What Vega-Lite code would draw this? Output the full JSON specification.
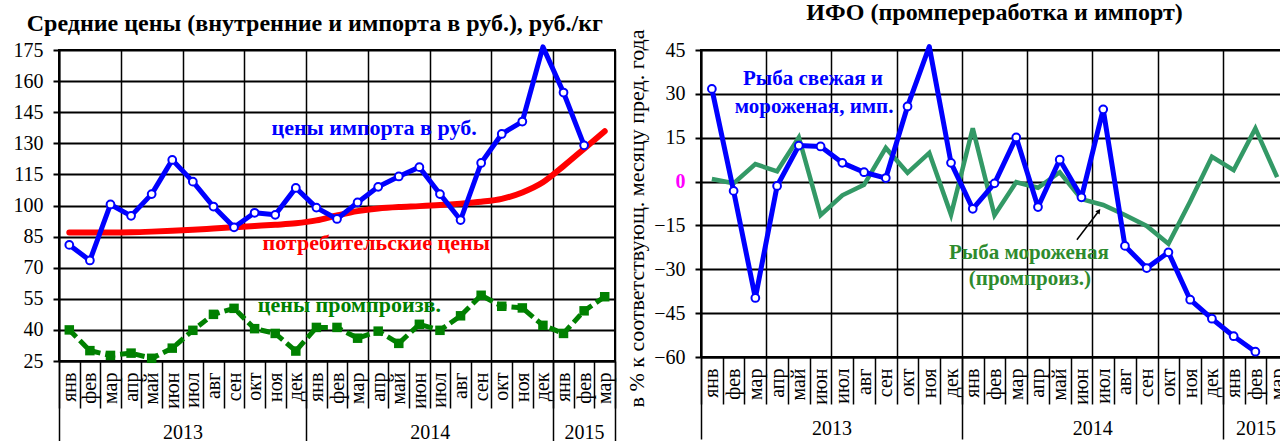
{
  "$schema": "https://vega.github.io/schema/vega-lite/v6.json",
  "padding": {"left": 12, "top": 0, "right": 0, "bottom": 0},
  "config": {
    "font": "Liberation Serif",
    "view": {"stroke": "black", "strokeWidth": 2},
    "axis": {"labelColor": "black", "titleColor": "black", "labelFont": "Liberation Serif", "titleFont": "Liberation Serif"},
    "title": {"font": "Liberation Serif", "fontWeight": "bold", "fontSize": 24, "color": "black"}
  },
  "resolve": {"scale": {"color": "independent"}},
  "datasets": {
    "L": [
      {"i":0,"s":"imp","v":81},{"i":1,"s":"imp","v":73.5},{"i":2,"s":"imp","v":100.5},{"i":3,"s":"imp","v":95},{"i":4,"s":"imp","v":105.5},{"i":5,"s":"imp","v":122},{"i":6,"s":"imp","v":111.5},{"i":7,"s":"imp","v":99.5},{"i":8,"s":"imp","v":89.5},{"i":9,"s":"imp","v":96.5},{"i":10,"s":"imp","v":95.5},{"i":11,"s":"imp","v":108.5},{"i":12,"s":"imp","v":99},{"i":13,"s":"imp","v":93.5},{"i":14,"s":"imp","v":101.5},{"i":15,"s":"imp","v":109},{"i":16,"s":"imp","v":114},{"i":17,"s":"imp","v":118.5},{"i":18,"s":"imp","v":105.5},{"i":19,"s":"imp","v":93},{"i":20,"s":"imp","v":120.5},{"i":21,"s":"imp","v":134.5},{"i":22,"s":"imp","v":140.5},{"i":23,"s":"imp","v":176.5},{"i":24,"s":"imp","v":154.5},{"i":25,"s":"imp","v":129},
      {"i":0,"s":"cons","v":87},{"i":1,"s":"cons","v":87},{"i":2,"s":"cons","v":87},{"i":3,"s":"cons","v":87.1},{"i":4,"s":"cons","v":87.4},{"i":5,"s":"cons","v":87.8},{"i":6,"s":"cons","v":88.3},{"i":7,"s":"cons","v":88.9},{"i":8,"s":"cons","v":89.5},{"i":9,"s":"cons","v":90.1},{"i":10,"s":"cons","v":90.7},{"i":11,"s":"cons","v":91.4},{"i":12,"s":"cons","v":92.8},{"i":13,"s":"cons","v":95.2},{"i":14,"s":"cons","v":97.3},{"i":15,"s":"cons","v":98.6},{"i":16,"s":"cons","v":99.3},{"i":17,"s":"cons","v":99.7},{"i":18,"s":"cons","v":100.2},{"i":19,"s":"cons","v":100.9},{"i":20,"s":"cons","v":101.8},{"i":21,"s":"cons","v":103.2},{"i":22,"s":"cons","v":106.3},{"i":23,"s":"cons","v":111.2},{"i":24,"s":"cons","v":119},{"i":25,"s":"cons","v":127.4},{"i":26,"s":"cons","v":135.8},
      {"i":0,"s":"prod","v":40},{"i":1,"s":"prod","v":30},{"i":2,"s":"prod","v":27.7},{"i":3,"s":"prod","v":28.8},{"i":4,"s":"prod","v":26.3},{"i":5,"s":"prod","v":31.2},{"i":6,"s":"prod","v":39.8},{"i":7,"s":"prod","v":47.5},{"i":8,"s":"prod","v":50.4},{"i":9,"s":"prod","v":40.6},{"i":10,"s":"prod","v":38.3},{"i":11,"s":"prod","v":29.8},{"i":12,"s":"prod","v":41.2},{"i":13,"s":"prod","v":41.2},{"i":14,"s":"prod","v":36},{"i":15,"s":"prod","v":39.4},{"i":16,"s":"prod","v":33.5},{"i":17,"s":"prod","v":42.7},{"i":18,"s":"prod","v":39.8},{"i":19,"s":"prod","v":46.8},{"i":20,"s":"prod","v":56.7},{"i":21,"s":"prod","v":51.4},{"i":22,"s":"prod","v":50.6},{"i":23,"s":"prod","v":42.2},{"i":24,"s":"prod","v":38.3},{"i":25,"s":"prod","v":49.2},{"i":26,"s":"prod","v":56}
    ],
    "LA": [
      {"i":14.8,"v":137.5,"s":"imp","t":"цены импорта в руб."},
      {"i":14.9,"v":82,"s":"cons","t":"потребительские цены"},
      {"i":13.6,"v":52,"s":"prod","t":"цены промпроизв."}
    ],
    "R": [
      {"i":0,"s":"imp","v":31.7},{"i":1,"s":"imp","v":-3.2},{"i":2,"s":"imp","v":-39.8},{"i":3,"s":"imp","v":-1.5},{"i":4,"s":"imp","v":12.3},{"i":5,"s":"imp","v":12},{"i":6,"s":"imp","v":6.4},{"i":7,"s":"imp","v":3.2},{"i":8,"s":"imp","v":1.2},{"i":9,"s":"imp","v":25.7},{"i":10,"s":"imp","v":46.2},{"i":11,"s":"imp","v":6.4},{"i":12,"s":"imp","v":-9.3},{"i":13,"s":"imp","v":-0.6},{"i":14,"s":"imp","v":15.1},{"i":15,"s":"imp","v":-8.7},{"i":16,"s":"imp","v":7.5},{"i":17,"s":"imp","v":-5.4},{"i":18,"s":"imp","v":24.7},{"i":19,"s":"imp","v":-22},{"i":20,"s":"imp","v":-29.6},{"i":21,"s":"imp","v":-24.2},{"i":22,"s":"imp","v":-40.4},{"i":23,"s":"imp","v":-46.9},{"i":24,"s":"imp","v":-52.9},{"i":25,"s":"imp","v":-58.2},
      {"i":0,"s":"frz","v":0.9},{"i":1,"s":"frz","v":-0.6},{"i":2,"s":"frz","v":6},{"i":3,"s":"frz","v":3.5},{"i":4,"s":"frz","v":15.1},{"i":5,"s":"frz","v":-11.5},{"i":6,"s":"frz","v":-4.7},{"i":7,"s":"frz","v":-1.1},{"i":8,"s":"frz","v":11.5},{"i":9,"s":"frz","v":3},{"i":10,"s":"frz","v":9.8},{"i":11,"s":"frz","v":-11.3},{"i":12,"s":"frz","v":18.2},{"i":13,"s":"frz","v":-11.5},{"i":14,"s":"frz","v":-0.2},{"i":15,"s":"frz","v":-2.1},{"i":16,"s":"frz","v":3.2},{"i":17,"s":"frz","v":-6},{"i":18,"s":"frz","v":-8},{"i":19,"s":"frz","v":-11.4},{"i":20,"s":"frz","v":-15.2},{"i":21,"s":"frz","v":-21.3},{"i":22,"s":"frz","v":-6.8},{"i":23,"s":"frz","v":8.5},{"i":24,"s":"frz","v":3.9},{"i":25,"s":"frz","v":18.2},{"i":26,"s":"frz","v":1.5}
    ],
    "RA": [
      {"i":4.65,"v":35.1,"s":"imp","t":"Рыба свежая и"},
      {"i":4.7,"v":25.6,"s":"imp","t":"мороженая, имп."},
      {"i":14.58,"v":-24.3,"s":"frz","t":"Рыба мороженая"},
      {"i":14.63,"v":-33.3,"s":"frz","t":"(промпроиз.)"}
    ],
    "ARROW": [
      {"i":16.79,"v":-19.9,"i2":17.8,"v2":-10.05}
    ]
  },
  "hconcat": [
    {
      "width": 556,
      "height": 311,
      "title": {"text": "Средние цены (внутренние и импорта в руб.), руб./кг", "frame": "bounds", "offset": 4},
      "resolve": {"axis": {"x": "independent"}},
      "layer": [
        {
          "data": {"name": "L"},
          "transform": [{"filter": "datum.s == 'cons'"}],
          "mark": {"type": "line", "color": "#FF0000", "strokeWidth": 6, "interpolate": "monotone", "strokeCap": "round"},
          "encoding": {
            "x": {"field": "i", "type": "quantitative", "scale": {"domain": [-0.5, 26.5], "nice": false, "zero": false},
              "axis": {"orient": "bottom", "tickCount": 60, "values": [-0.5,0.5,1.5,2.5,3.5,4.5,5.5,6.5,7.5,8.5,9.5,10.5,11.5,12.5,13.5,14.5,15.5,16.5,17.5,18.5,19.5,20.5,21.5,22.5,23.5,24.5,25.5,26.5],
                "labels": false, "ticks": true, "tickSize": 47, "tickColor": "black", "tickWidth": 1.5,
                "grid": true, "gridColor": "black", "gridWidth": 1.5,
                "gridOpacity": {"condition": {"test": "(datum.value + 0.5) % 3 == 0", "value": 1}, "value": 0},
                "domain": true, "domainColor": "black", "domainWidth": 2, "title": null}},
            "y": {"field": "v", "type": "quantitative", "scale": {"domain": [25, 175], "nice": false, "zero": false},
              "axis": {"orient": "left", "tickCount": 30, "values": [25,40,55,70,85,100,115,130,145,160,175], "grid": true, "gridColor": "black", "gridWidth": 2,
                "ticks": true, "tickSize": 6, "tickWidth": 2, "tickColor": "black", "domain": true, "domainColor": "black", "domainWidth": 2,
                "labelFontSize": 20, "labelPadding": 10, "labelOverlap": false, "labelFlush": false, "labelBound": false, "title": null}}
          }
        },
        {
          "data": {"name": "L"},
          "transform": [{"filter": "datum.s == 'prod'"}],
          "mark": {"type": "line", "color": "#008000", "strokeWidth": 5, "strokeDash": [10, 5]},
          "encoding": {
            "x": {"field": "i", "type": "quantitative",
              "axis": {"orient": "bottom", "tickCount": 60, "values": [0,1,2,3,4,5,6,7,8,9,10,11,12,13,14,15,16,17,18,19,20,21,22,23,24,25,26],
                "ticks": false, "domain": false, "grid": false, "labelAngle": 270, "labelAlign": "right", "labelBaseline": "middle",
                "labelPadding": 11, "labelFontSize": 20, "labelOverlap": false, "labelFlush": false, "labelBound": false,
                "labelExpr": "['янв','фев','мар','апр','май','июн','июл','авг','сен','окт','ноя','дек'][datum.value % 12]", "title": null}},
            "y": {"field": "v", "type": "quantitative"}
          }
        },
        {
          "data": {"name": "L"},
          "transform": [{"filter": "datum.s == 'prod'"}],
          "mark": {"type": "point", "shape": "square", "filled": true, "color": "#008000", "size": 90, "opacity": 1},
          "encoding": {
            "x": {"field": "i", "type": "quantitative", "axis": null},
            "y": {"field": "v", "type": "quantitative"}
          }
        },
        {
          "data": {"name": "L"},
          "transform": [{"filter": "datum.s == 'imp'"}],
          "mark": {"type": "line", "color": "#0000FF", "strokeWidth": 5, "strokeJoin": "round"},
          "encoding": {
            "x": {"field": "i", "type": "quantitative",
              "axis": {"orient": "bottom", "tickCount": 60, "values": [-0.5, 5.5, 11.5, 17.5, 23.5, 25, 26.5], "domain": false, "grid": false,
                "ticks": true, "tickSize": 82, "tickColor": "black", "tickWidth": 1.5,
                "tickOpacity": {"condition": {"test": "datum.value == 5.5 || datum.value == 17.5 || datum.value == 25", "value": 0}, "value": 1},
                "labelExpr": "datum.value == 5.5 ? '2013' : datum.value == 17.5 ? '2014' : datum.value == 25 ? '2015' : ''",
                "labelPadding": -21, "labelFontSize": 20, "labelAngle": 0, "labelOverlap": false, "labelFlush": false, "labelBound": false, "title": null}},
            "y": {"field": "v", "type": "quantitative"}
          }
        },
        {
          "data": {"name": "L"},
          "transform": [{"filter": "datum.s == 'imp' && datum.v <= 175"}],
          "mark": {"type": "point", "shape": "circle", "filled": true, "fill": "white", "stroke": "#0000FF", "strokeWidth": 2, "size": 60, "opacity": 1},
          "encoding": {
            "x": {"field": "i", "type": "quantitative", "axis": null},
            "y": {"field": "v", "type": "quantitative"}
          }
        },
        {
          "data": {"name": "LA"},
          "mark": {"type": "text", "fontWeight": "bold", "fontSize": 22, "align": "center", "baseline": "middle"},
          "encoding": {
            "x": {"field": "i", "type": "quantitative", "axis": null},
            "y": {"field": "v", "type": "quantitative"},
            "text": {"field": "t"},
            "color": {"field": "s", "type": "nominal", "scale": {"domain": ["imp", "cons", "prod"], "range": ["#0000FF", "#FF0000", "#008000"]}, "legend": null}
          }
        }
      ]
    },
    {
      "width": 587,
      "height": 307,
      "title": {"text": "ИФО (промпереработка и импорт)", "frame": "group", "offset": 4},
      "resolve": {"axis": {"x": "independent"}},
      "layer": [
        {
          "data": {"name": "R"},
          "transform": [{"filter": "datum.s == 'frz'"}],
          "mark": {"type": "line", "color": "#339966", "strokeWidth": 4.5},
          "encoding": {
            "x": {"field": "i", "type": "quantitative", "scale": {"domain": [-0.5, 26.5], "nice": false, "zero": false},
              "axis": {"orient": "bottom", "tickCount": 60, "values": [-0.5,0.5,1.5,2.5,3.5,4.5,5.5,6.5,7.5,8.5,9.5,10.5,11.5,12.5,13.5,14.5,15.5,16.5,17.5,18.5,19.5,20.5,21.5,22.5,23.5,24.5,25.5,26.5],
                "labels": false, "ticks": true, "tickSize": 47, "tickColor": "black", "tickWidth": 1.5,
                "grid": true, "gridColor": "black", "gridWidth": 1.5,
                "gridOpacity": {"condition": {"test": "(datum.value + 0.5) % 3 == 0", "value": 1}, "value": 0},
                "domain": true, "domainColor": "black", "domainWidth": 2, "title": null}},
            "y": {"field": "v", "type": "quantitative", "scale": {"domain": [-60, 45], "nice": false, "zero": false},
              "axis": {"orient": "left", "tickCount": 30, "values": [-60,-45,-30,-15,0,15,30,45], "grid": true, "gridColor": "black", "gridWidth": 2,
                "ticks": true, "tickSize": 6, "tickWidth": 2, "tickColor": "black", "domain": true, "domainColor": "black", "domainWidth": 2,
                "labelFontSize": 20, "labelPadding": 10, "labelOverlap": false, "labelFlush": false, "labelBound": false,
                "labelColor": {"condition": {"test": "datum.value == 0", "value": "#FF00FF"}, "value": "black"},
                "labelFontWeight": {"condition": {"test": "datum.value == 0", "value": "bold"}, "value": "normal"},
                "title": "в % к соответствующ. месяцу пред. года", "titleFontSize": 22, "titleFontWeight": "normal", "titlePadding": 5, "titleY": 168}}
          }
        },
        {
          "data": {"name": "R"},
          "transform": [{"filter": "datum.s == 'imp'"}],
          "mark": {"type": "line", "color": "#0000FF", "strokeWidth": 5, "strokeJoin": "round"},
          "encoding": {
            "x": {"field": "i", "type": "quantitative",
              "axis": {"orient": "bottom", "tickCount": 60, "values": [0,1,2,3,4,5,6,7,8,9,10,11,12,13,14,15,16,17,18,19,20,21,22,23,24,25,26],
                "ticks": false, "domain": false, "grid": false, "labelAngle": 270, "labelAlign": "right", "labelBaseline": "middle",
                "labelPadding": 11, "labelFontSize": 20, "labelOverlap": false, "labelFlush": false, "labelBound": false,
                "labelExpr": "['янв','фев','мар','апр','май','июн','июл','авг','сен','окт','ноя','дек'][datum.value % 12]", "title": null}},
            "y": {"field": "v", "type": "quantitative"}
          }
        },
        {
          "data": {"name": "R"},
          "transform": [{"filter": "datum.s == 'imp' && datum.v <= 45"}],
          "mark": {"type": "point", "shape": "circle", "filled": true, "fill": "white", "stroke": "#0000FF", "strokeWidth": 2, "size": 60, "opacity": 1},
          "encoding": {
            "x": {"field": "i", "type": "quantitative", "axis": null},
            "y": {"field": "v", "type": "quantitative"}
          }
        },
        {
          "data": {"name": "RA"},
          "mark": {"type": "text", "fontWeight": "bold", "fontSize": 21, "align": "center", "baseline": "middle"},
          "encoding": {
            "x": {"field": "i", "type": "quantitative",
              "axis": {"orient": "bottom", "tickCount": 60, "values": [-0.5, 5.5, 11.5, 17.5, 23.5, 25, 26.5], "domain": false, "grid": false,
                "ticks": true, "tickSize": 82, "tickColor": "black", "tickWidth": 1.5,
                "tickOpacity": {"condition": {"test": "datum.value == 5.5 || datum.value == 17.5 || datum.value == 25", "value": 0}, "value": 1},
                "labelExpr": "datum.value == 5.5 ? '2013' : datum.value == 17.5 ? '2014' : datum.value == 25 ? '2015' : ''",
                "labelPadding": -21, "labelFontSize": 20, "labelAngle": 0, "labelOverlap": false, "labelFlush": false, "labelBound": false, "title": null}},
            "y": {"field": "v", "type": "quantitative"},
            "text": {"field": "t"},
            "color": {"field": "s", "type": "nominal", "scale": {"domain": ["imp", "frz"], "range": ["#0000FF", "#2E8B2E"]}, "legend": null}
          }
        },
        {
          "data": {"name": "ARROW"},
          "mark": {"type": "rule", "color": "black", "strokeWidth": 1.5},
          "encoding": {
            "x": {"field": "i", "type": "quantitative", "axis": null},
            "y": {"field": "v", "type": "quantitative"},
            "x2": {"field": "i2"},
            "y2": {"field": "v2"}
          }
        },
        {
          "data": {"name": "ARROW"},
          "mark": {"type": "point", "shape": "triangle-up", "filled": true, "color": "black", "size": 30, "angle": 37, "opacity": 1},
          "encoding": {
            "x": {"field": "i2", "type": "quantitative", "axis": null},
            "y": {"field": "v2", "type": "quantitative"}
          }
        }
      ]
    }
  ],
  "spacing": 6
}
